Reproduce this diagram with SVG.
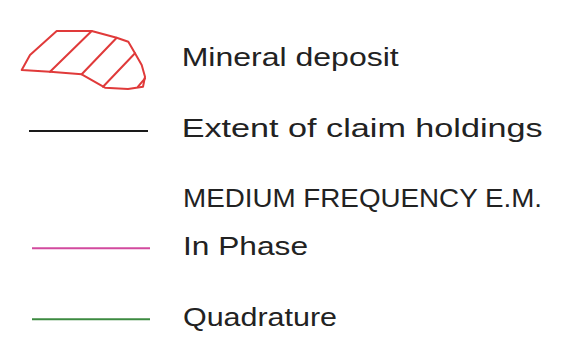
<svg xmlns="http://www.w3.org/2000/svg" width="565" height="352" viewBox="0 0 565 352">
<style>
text{font-family:"Liberation Sans","DejaVu Sans",sans-serif;font-size:25px;fill:#222222}
.hatch{fill:none;stroke:#e03a3a;stroke-width:2;stroke-linejoin:round;stroke-linecap:round}
.ln{stroke-width:2;fill:none}
</style>
<rect width="565" height="352" fill="#ffffff"/>
<g id="mineral-deposit">
<path class="hatch" d="M56.7,31 L91.7,31 L116.7,37.7 L128.3,41.7 L135,53.3 L141.7,65 L145,76.7 L143,86.7 L128,89 L105,87.7 L81.7,74.3 L50,71.7 L21.7,70 L30,55 Z"/>
<path class="hatch" d="M50,71.7 L91.7,31 M81.7,74.3 L116.7,37.7 M103,86.7 L135,53.3 M138,86.7 L145,78.3"/>
<text x="181.7" y="66" textLength="217" lengthAdjust="spacingAndGlyphs">Mineral deposit</text>
</g>
<g id="claim-holdings">
<line class="ln" x1="29" y1="131" x2="148" y2="131" stroke="#1a1a1a"/>
<text x="181.7" y="137" textLength="361" lengthAdjust="spacingAndGlyphs">Extent of claim holdings</text>
</g>
<g id="em-heading">
<text x="183" y="207" textLength="359" lengthAdjust="spacingAndGlyphs">MEDIUM FREQUENCY E.M.</text>
</g>
<g id="in-phase">
<line class="ln" x1="32" y1="248.3" x2="150" y2="248.3" stroke="#d24a9e"/>
<text x="183" y="255" textLength="125" lengthAdjust="spacingAndGlyphs">In Phase</text>
</g>
<g id="quadrature">
<line class="ln" x1="32" y1="319.3" x2="150" y2="319.3" stroke="#3c8a40"/>
<text x="183" y="326" textLength="154" lengthAdjust="spacingAndGlyphs">Quadrature</text>
</g>
</svg>
